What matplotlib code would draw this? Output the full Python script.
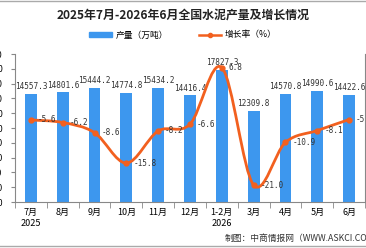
import matplotlib
matplotlib.use("Agg")
import matplotlib.pyplot as plt
from matplotlib.path import Path
from matplotlib.patches import PathPatch
from matplotlib.lines import Line2D
import numpy as np

plt.rcParams['font.family'] = ['Noto Sans CJK SC', 'DejaVu Sans']

months = ['7月\n2025', '8月', '9月', '10月', '11月', '12月', '1-2月\n2026',
          '3月', '4月', '5月', '6月']
output = [14557.3, 14801.6, 15444.2, 14774.8, 15434.2, 14416.4, 17827.3,
          12309.8, 14570.8, 14990.6, 14422.6]
growth = [-5.6, -6.2, -8.6, -15.8, -8.2, -6.6, 6.8, -21.0, -10.9, -8.1, -5.5]

bar_color = '#3d97ee'
line_color = '#f2601f'

fig = plt.figure(figsize=(3.66, 2.48), dpi=100)
ax = fig.add_axes([15/366, 1-202/248, 350/366, 148/248])
x = np.arange(len(months))

bars = ax.bar(x, output, width=0.37, color=bar_color, zorder=2)
ax.bar_label(bars, labels=[f'{v:.1f}' for v in output], padding=2,
             fontsize=5.6, family='DejaVu Sans Mono', color='#333333')
ax.set_xlim(-0.5, len(months) - 0.5)
ax.set_ylim(0, 20000)
ax.set_yticks(np.arange(0, 20001, 2000))
ax.tick_params(axis='y', labelsize=6, length=3, color='#888888', pad=6)
ax.set_xticks(x)
ax.set_xticklabels(months, fontsize=6.5, linespacing=1.3)
ax.tick_params(axis='x', length=0, pad=4)
ax.set_xticks(np.arange(-0.5, len(months), 1), minor=True)
ax.tick_params(axis='x', which='minor', length=4, color='#888888')
for s in ['top', 'right']:
    ax.spines[s].set_visible(False)
ax.spines['left'].set_color('#888888')
ax.spines['bottom'].set_color('#888888')

ax2 = ax.twinx()
ax2.set_ylim(-25, 10)
ax2.set_yticks(np.arange(-25, 11, 5))
ax2.tick_params(axis='y', labelsize=6, length=3, color='#888888', pad=4)
for s in ['top', 'left', 'bottom']:
    ax2.spines[s].set_visible(False)
ax2.spines['right'].set_color('#888888')

# smooth line through the points (Catmull-Rom as cubic bezier)
pts = np.column_stack([x, growth]).astype(float)
verts = [pts[0]]
codes = [Path.MOVETO]
n = len(pts)
for i in range(n - 1):
    p0 = pts[i - 1] if i > 0 else pts[i]
    p1 = pts[i]
    p2 = pts[i + 1]
    p3 = pts[i + 2] if i + 2 < n else pts[i + 1]
    verts += [p1 + (p2 - p0) / 6, p2 - (p3 - p1) / 6, p2]
    codes += [Path.CURVE4] * 3
ax2.add_patch(PathPatch(Path(verts, codes), facecolor='none',
                        edgecolor=line_color, lw=2, zorder=3))
ax2.plot(x, growth, 'o', color=line_color, ms=3.5, zorder=4)
for xi, g in zip(x, growth):
    ax2.annotate(f'{g:.1f}', (xi, g), xytext=(5, 0), textcoords='offset points',
                 va='center', ha='left', fontsize=5.6,
                 family='DejaVu Sans Mono', color='#333333')

fig.text(0.5, 1-15/248, '2025年7月-2026年6月全国水泥产量及增长情况',
         ha='center', va='center', fontsize=8.6, fontweight='bold', color='#222222')

# legend
handles = [plt.Rectangle((0, 0), 1, 1, color=bar_color),
           Line2D([0], [0], color=line_color, lw=1.8, marker='o', ms=3)]
fig.legend(handles, ['产量（万吨）', '增长率（%）'], loc='center',
           bbox_to_anchor=(0.5, 1-35/248), ncol=2, frameon=False,
           fontsize=6.3, handlelength=2.6, handleheight=0.5,
           columnspacing=3.5, handletextpad=0.4)

fig.text(225/366, 1-238/248, '制图：中商情报网（WWW.ASKCI.COM）',
         ha='left', va='center', fontsize=6.3, color='#333333')

fig.add_artist(Line2D([0, 1], [1-1/248, 1-1/248], color='#aaaaaa', lw=1))
fig.add_artist(Line2D([0, 1], [1-246/248, 1-246/248], color='#aaaaaa', lw=1))

fig.savefig('out.png', dpi=100)
